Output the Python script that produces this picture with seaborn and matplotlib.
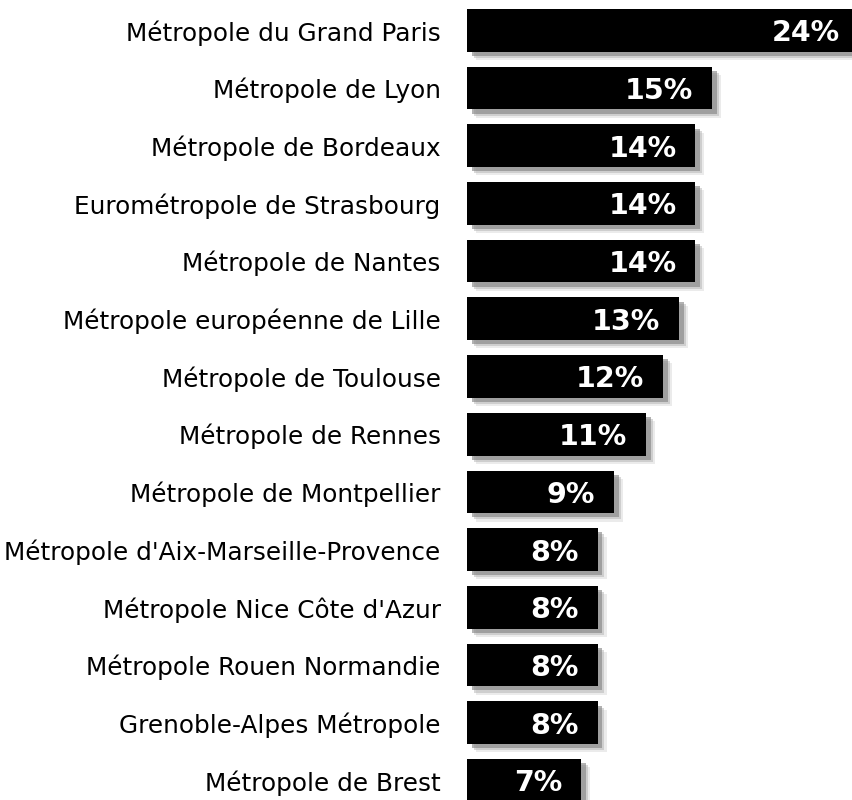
import matplotlib
matplotlib.use("Agg")
import matplotlib.pyplot as plt
import matplotlib.patheffects as pe
import seaborn as sns
import pandas as pd

# Données
metropoles = [
    "Métropole du Grand Paris",
    "Métropole de Lyon",
    "Métropole de Bordeaux",
    "Eurométropole de Strasbourg",
    "Métropole de Nantes",
    "Métropole européenne de Lille",
    "Métropole de Toulouse",
    "Métropole de Rennes",
    "Métropole de Montpellier",
    "Métropole d'Aix-Marseille-Provence",
    "Métropole Nice Côte d'Azur",
    "Métropole Rouen Normandie",
    "Grenoble-Alpes Métropole",
    "Métropole de Brest",
]
parts = [24, 15, 14, 14, 14, 13, 12, 11, 9, 8, 8, 8, 8, 7]
etiquettes = [f"{p}%" for p in parts]

df = pd.DataFrame({"metropole": metropoles, "part": parts})

sns.set_theme(style="white")
plt.rcParams["font.family"] = ["DejaVu Sans"]

fig = plt.figure(figsize=(8.52, 8.0), dpi=100)
ax = fig.add_axes([467 / 852, 0, 385 / 852, 1])

sns.barplot(data=df, x="part", y="metropole", orient="h", color="black",
            saturation=1, width=0.74, ax=ax)

# ombre portée sous les barres (plusieurs couches pour adoucir)
for bar in ax.patches:
    bar.set_linewidth(0)
    bar.set_path_effects([
        pe.SimplePatchShadow(offset=(6.5, -6), shadow_rgbFace="0.85", alpha=0.5),
        pe.SimplePatchShadow(offset=(5, -4.5), shadow_rgbFace="0.7", alpha=0.5),
        pe.SimplePatchShadow(offset=(3.5, -3), shadow_rgbFace="0.5", alpha=0.6),
        pe.Normal(),
    ])

# valeurs dans les barres
for i, (p, lab) in enumerate(zip(parts, etiquettes)):
    ax.annotate(lab, xy=(p, i), xytext=(-19, -3), textcoords="offset pixels",
                ha="right", va="center", color="white", fontsize=20.5,
                fontweight="bold", annotation_clip=False)

ax.set_xlim(0, 23.6)
ax.set_ylim(13.34, -0.525)
ax.set_xlabel("")
ax.set_ylabel("")
ax.set_xticks([])
ax.tick_params(axis="y", length=0, pad=19, labelsize=17.8, labelcolor="black")
sns.despine(ax=ax, left=True, bottom=True)

fig.savefig("out.png", dpi=100)
